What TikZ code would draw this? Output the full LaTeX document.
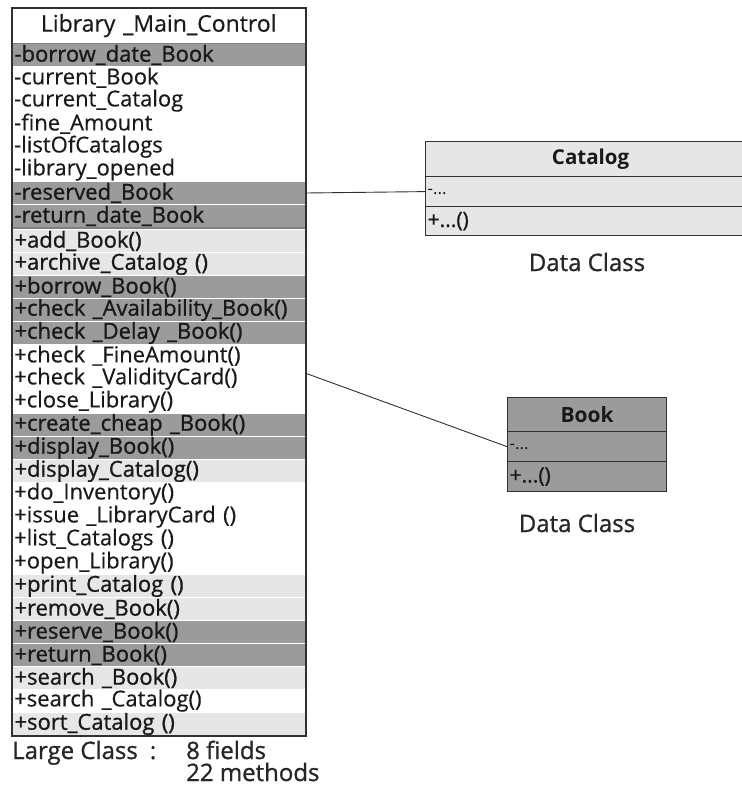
\documentclass[tikz,border=0pt]{standalone}
\usepackage{fontspec}
\setmainfont{Open Sans}
\newfontfamily\rowfont{Open Sans}[FakeBold=0.4]
\newfontfamily\shadefont{Open Sans}[FakeBold=1.0]
\usetikzlibrary{positioning}

\definecolor{rowdark}{HTML}{9B9B9B}
\definecolor{rowlight}{HTML}{E6E6E6}
\definecolor{edge}{HTML}{303030}

\tikzset{
  row/.style={rectangle, anchor=north west, minimum height=23pt, text width=289pt,
    inner xsep=2pt, inner ysep=0pt, align=left, text=black!90,
    font=\rowfont\fontsize{22}{23}\selectfont},
  dark/.style={fill=rowdark, draw=white, line width=1pt, font=\shadefont\fontsize{22}{23}\selectfont},
  light/.style={fill=rowlight, draw=white, line width=1pt, font=\shadefont\fontsize{22}{23}\selectfont},
  plain/.style={fill=white},
  box/.style={rectangle, anchor=north west, inner xsep=2pt, inner ysep=0pt, align=left,
    draw=edge, line width=1.2pt, text=black!90},
  note/.style={inner sep=0pt, text=black!85, font=\shadefont\fontsize{24}{25}\selectfont}
}

\begin{document}
\begin{tikzpicture}[x=1pt, y=-1pt]
  \useasboundingbox (0,0) rectangle (742,788);
  \clip (0,0) rectangle (742,788);

  % main class
  \node[row, plain, align=center, font=\rowfont\fontsize{23}{24}\selectfont] (title) at (12,8)
    [minimum height=35pt] {Library \_Main\_Control};
  \foreach \txt/\shade [count=\i] in {
      -borrow\_date\_Book/dark, -current\_Book/plain, -current\_Catalog/plain,
      -fine\_Amount/plain, -listOfCatalogs/plain, -library\_opened/plain,
      -reserved\_Book/dark, -return\_date\_Book/dark}
    \node[row, \shade] (f\i) at (12, {43+23*(\i-1)}) {\txt};
  \foreach \txt/\shade [count=\i] in {
      +add\_Book()/light, +archive\_Catalog ()/light, +borrow\_Book()/dark,
      +check \_Availability\_Book()/dark, +check \_Delay \_Book()/dark,
      +check \_FineAmount()/plain, +check \_ValidityCard()/plain, +close\_Library()/plain,
      +create\_cheap \_Book()/dark, +display\_Book()/dark, +display\_Catalog()/light,
      +do\_Inventory()/plain, +issue \_LibraryCard ()/plain, +list\_Catalogs ()/plain,
      +open\_Library()/plain, +print\_Catalog ()/light, +remove\_Book()/light,
      +reserve\_Book()/dark, +return\_Book()/dark, +search \_Book()/light,
      +search \_Catalog()/plain, +sort\_Catalog ()/light}
    \node[row, \shade] (m\i) at (12, {229+23*(\i-1)}) {\txt};

  \draw[gray, line width=1.5pt] (title.south west) -- (title.south east);
  \draw[gray, line width=1.5pt] (f8.south west) -- (f8.south east);
  \draw[edge, line width=1.5pt] (title.north west) rectangle (m22.south east);

  \node[note, anchor=base west] (large) at (12,759) {Large Class\hspace{12pt}:};
  \node[note, anchor=base west] (fields) at (186,759) {8 fields};
  \node[note, anchor=base west] (count) at (186,781) {22 methods};

  % data classes
  \node[box, fill=rowlight, minimum width=330pt, minimum height=35pt, text width=326pt,
    align=center, font=\bfseries\fontsize{20.5}{22}\selectfont] (cat) at (425,141) {Catalog};
  \node[box, fill=rowlight, minimum width=330pt, minimum height=30pt, text width=326pt,
    font=\fontsize{17}{18}\selectfont] (catfield) at (425,176) {-...};
  \node[box, fill=rowlight, minimum width=330pt, minimum height=29pt, text width=326pt,
    font=\shadefont\fontsize{21}{21}\selectfont] (catop) at (425,206) {+...()};
  \node[note] (catnote) at (587,262) {Data Class};

  \node[box, fill=rowdark, minimum width=159pt, minimum height=34pt, text width=155pt,
    align=center, font=\bfseries\fontsize{21}{22}\selectfont] (book) at (507,397) {Book};
  \node[box, fill=rowdark, minimum width=159pt, minimum height=30pt, text width=155pt,
    font=\fontsize{17}{18}\selectfont] (bookfield) at (507,431) {-...};
  \node[box, fill=rowdark, minimum width=159pt, minimum height=30pt, text width=155pt,
    font=\shadefont\fontsize{21}{21}\selectfont] (bookop) at (507,461) {+...()};
  \node[note] (booknote) at (577,523) {Data Class};

  % links
  \coordinate (bookend) at (305,373);
  \draw[edge, line width=0.9pt] (f7.east) -- (catfield.west);
  \draw[edge, line width=0.9pt] (bookend) -- (bookfield.west);
\end{tikzpicture}
\end{document}
